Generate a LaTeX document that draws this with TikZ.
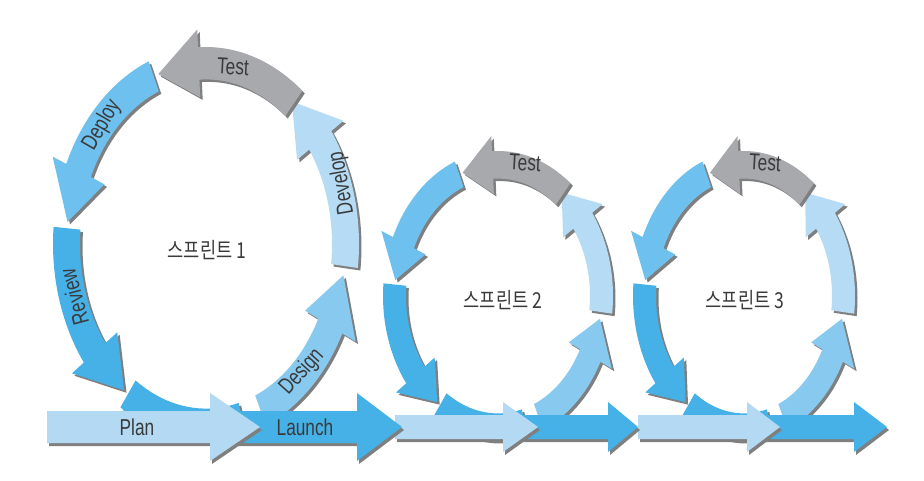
\documentclass[tikz,border=0pt]{standalone}
\usepackage{fontspec}
\usepackage{xcolor}
\usepackage{tikz}
\newfontfamily\lblfont{Liberation Sans}[FakeStretch=0.75]
\newfontfamily\krfont{Noto Sans CJK KR}[FakeStretch=0.8]

\definecolor{testgray}{HTML}{A7A9AC}
\definecolor{deployblue}{HTML}{6EC1EE}
\definecolor{reviewblue}{HTML}{46B1E7}
\definecolor{designblue}{HTML}{88CAEF}
\definecolor{developblue}{HTML}{B5DCF4}
\definecolor{planblue}{HTML}{B3DAF2}
\definecolor{shadowgray}{HTML}{7F7F7F}
\definecolor{textgray}{HTML}{3A3A3A}

\newcommand{\headang}{17}
% curved arrow on an ellipse: cx, cy, rx, ry, band, from, to, fill
\newcommand{\sprintarrow}[8]{%
  \pgfmathsetmacro\hb{#7-\headang}
  \pgfmathsetmacro\tb{1.2*#5}
  \foreach \dx/\dy/\col in {2.5/-2.5/shadowgray, 0/0/#8}{
    \fill[\col, shift={(\dx,\dy)}]
      plot[domain=#6:\hb, samples=24] ({#1+(#3-#5)*cos(\x)}, {#2+(#4-\tb)*sin(\x)})
      -- ({#1+(#3-1.55*#5)*cos(\hb)}, {#2+(#4-1.55*\tb)*sin(\hb)})
      -- ({#1+(#3-0.5*#5)*cos(#7)}, {#2+(#4-0.5*\tb)*sin(#7)})
      -- ({#1+(#3+0.55*#5)*cos(\hb)}, {#2+(#4+0.55*\tb)*sin(\hb)})
      -- plot[domain=\hb:#6, samples=24] ({#1+#3*cos(\x)}, {#2+#4*sin(\x)})
      -- cycle;
  }
}
% curved band without head
\newcommand{\sprintband}[8]{%
  \pgfmathsetmacro\tb{1.2*#5}
  \foreach \dx/\dy/\col in {2.5/-2.5/shadowgray, 0/0/#8}{
    \fill[\col, shift={(\dx,\dy)}]
      plot[domain=#6:#7, samples=20] ({#1+(#3-#5)*cos(\x)}, {#2+(#4-\tb)*sin(\x)})
      -- plot[domain=#7:#6, samples=20] ({#1+#3*cos(\x)}, {#2+#4*sin(\x)})
      -- cycle;
  }
}
% straight arrow of the timeline: from, tip, head length, fill, half band, half head
\newcommand{\bararrow}[6]{%
  \foreach \dx/\dy/\col in {2/-3/shadowgray, 0/0/#4}{
    \fill[\col, shift={(\dx,\dy)}] (#1,53-#5) -- (#2-#3,53-#5) -- (#2-#3,53-#6) -- (#2,53)
      -- (#2-#3,53+#6) -- (#2-#3,53+#5) -- (#1,53+#5) -- cycle;
  }
}

\tikzset{
  lbl/.style={text=textgray, font=\lblfont\fontsize{23}{23}\selectfont, inner sep=0pt},
  sprint/.style={text=textgray, font=\krfont\fontsize{22}{22}\selectfont, inner sep=0pt}
}

\begin{document}
\begin{tikzpicture}[x=1pt, y=1pt]
\useasboundingbox (0,0) rectangle (924,480);

% the three sprint loops
\foreach \cx/\cy/\rx/\ry/\t in {206/236/153/197/27, 498/184/115/145/23, 744/184/111/145/23}{
  \sprintband{\cx}{\cy}{\rx}{\ry}{\t}{236}{285}{reviewblue}
  \sprintarrow{\cx}{\cy}{\rx}{\ry}{\t}{293}{350}{designblue}
  \sprintarrow{\cx}{\cy}{\rx}{\ry}{\t}{353}{412}{developblue}
  \sprintarrow{\cx}{\cy}{\rx}{\ry}{\t}{112}{173}{deployblue}
  \sprintarrow{\cx}{\cy}{\rx}{\ry}{\t}{175}{234}{reviewblue}
  \sprintarrow{\cx}{\cy}{\rx}{\ry}{\t}{51}{110}{testgray}
}

% timeline, drawn from the right so each head lies on the next tail
\bararrow{750}{887}{33}{reviewblue}{12}{25}
\bararrow{638}{780}{33}{planblue}{12}{25}
\bararrow{510}{638}{30}{reviewblue}{12}{25}
\bararrow{395}{538}{35}{planblue}{12}{25}
\bararrow{225}{402}{45}{reviewblue}{16}{34}
\bararrow{47}{260}{50}{planblue}{16}{34}

% labels
\node[lbl, rotate=-3] at (233,413) (test1) {Test};
\node[lbl, rotate=60] at (102,355) (deploy) {Deploy};
\node[lbl, rotate=100] at (342,297) (develop) {Develop};
\node[lbl, rotate=105] at (74,183) (review) {Review};
\node[lbl, rotate=48] at (302,108) (design) {Design};
\node[lbl] at (137,53) (plan) {Plan};
\node[lbl] at (305,53) (launch) {Launch};
\node[lbl, rotate=-3] at (525,317) (test2) {Test};
\node[lbl, rotate=-3] at (765,317) (test3) {Test};

\node[sprint] at (207,230) (sprint1) {스프린트 1};
\node[sprint] at (503,180) (sprint2) {스프린트 2};
\node[sprint] at (745,180) (sprint3) {스프린트 3};
\end{tikzpicture}
\end{document}
